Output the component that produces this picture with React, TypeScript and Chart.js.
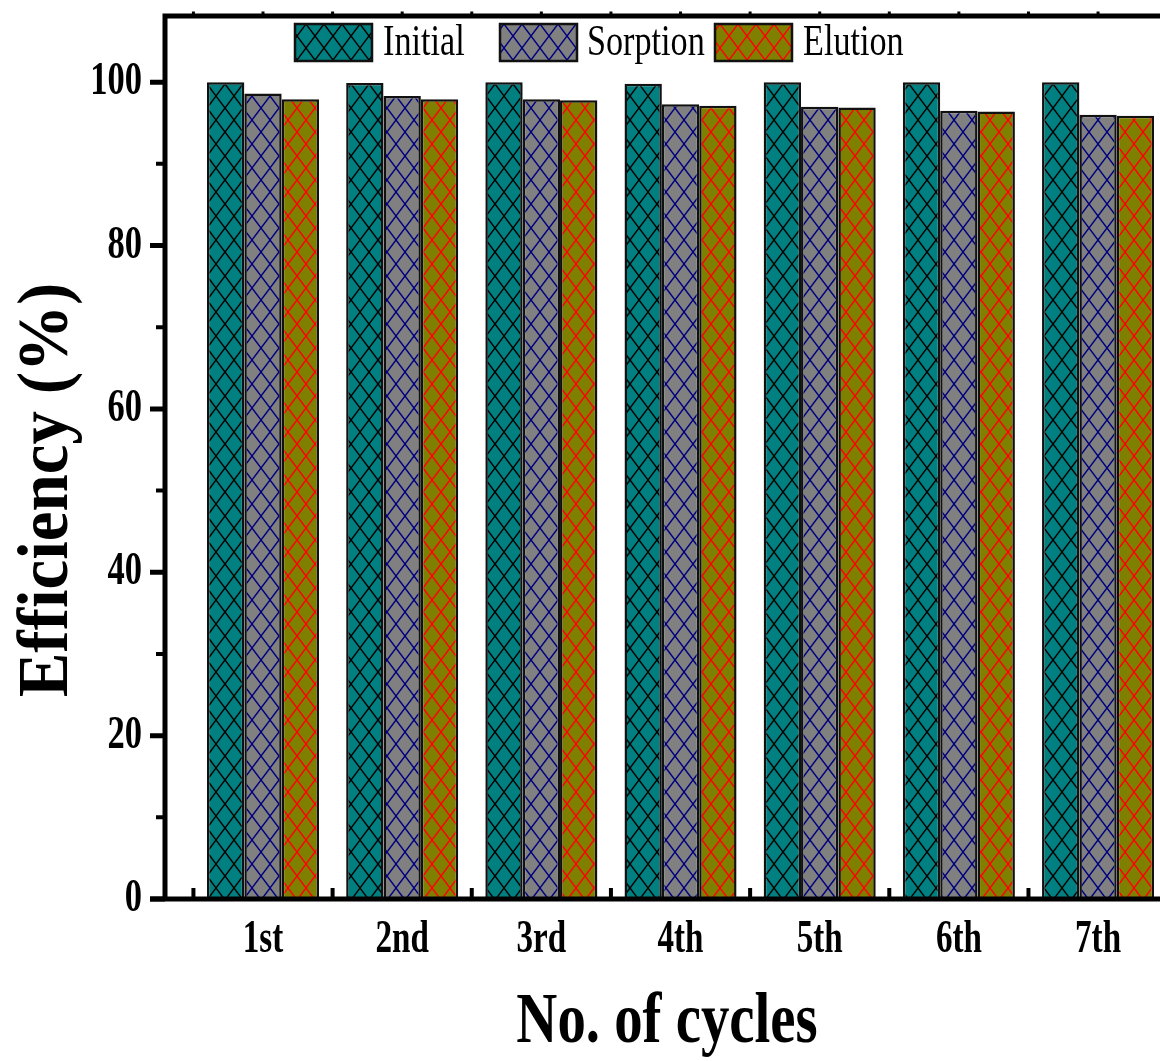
import React, { useEffect, useRef } from "react";
import { Chart, registerables } from "chart.js";

Chart.register(...registerables);

// Cycle categories and efficiency values (%)
const cycleLabels = ["1st", "2nd", "3rd", "4th", "5th", "6th", "7th"];
const cyclePositions = [1, 2, 3, 4, 5, 6, 7];
const initialValues = [100, 99.9, 100, 99.8, 100, 100, 100];
const sorptionValues = [98.6, 98.3, 97.9, 97.3, 97.0, 96.5, 96.0];
const elutionValues = [97.9, 97.9, 97.8, 97.1, 96.9, 96.4, 95.9];

const seriesNames = ["Initial", "Sorption", "Elution"];
const yMajorTicks = [0, 20, 40, 60, 80, 100];
const yMinorTicks = [10, 30, 50, 70, 90];
const xBoundaryTicks = [0.5, 1.5, 2.5, 3.5, 4.5, 5.5, 6.5, 7.5];

const X_MIN = 0.2958;
const X_MAX = 7.481;
const Y_MAX = 108.1;

const CANVAS_W = 1175;
const CANVAS_H = 1061;

const FONT = '"Liberation Serif", "Times New Roman", serif';

// Diagonal cross-hatch fill
function makeHatch(ctx: CanvasRenderingContext2D, fill: string, stroke: string) {
  const W = 18;
  const H = 24;
  const tile = document.createElement("canvas");
  tile.width = W;
  tile.height = H;
  const t = tile.getContext("2d")!;
  t.fillStyle = fill;
  t.fillRect(0, 0, W, H);
  t.strokeStyle = stroke;
  t.lineWidth = 1.4;
  t.beginPath();
  for (const k of [-1, 0, 1]) {
    const ox = k * W;
    // "\" family
    t.moveTo(ox - W * 0.1, -H * 0.1);
    t.lineTo(ox + W * 1.1, H * 1.1);
    // "/" family
    t.moveTo(ox + W * 1.1, -H * 0.1);
    t.lineTo(ox - W * 0.1, H * 1.1);
  }
  t.stroke();
  return ctx.createPattern(tile, "repeat")!;
}

function drawCondensed(
  ctx: CanvasRenderingContext2D,
  text: string,
  x: number,
  y: number,
  font: string,
  align: CanvasTextAlign,
  sx: number,
  rotate = 0
) {
  ctx.save();
  ctx.translate(x, y);
  if (rotate) ctx.rotate(rotate);
  ctx.scale(sx, 1);
  ctx.font = font;
  ctx.textAlign = align;
  ctx.textBaseline = "alphabetic";
  ctx.fillStyle = "#000";
  ctx.fillText(text, 0, 0);
  ctx.restore();
}

const framePlugin = {
  id: "frame",
  afterDatasetsDraw(chart: any) {
    const ctx: CanvasRenderingContext2D = chart.ctx;
    const xs = chart.scales.x;
    const ys = chart.scales.y;
    const { left, right, top, bottom } = chart.chartArea;

    ctx.save();
    ctx.strokeStyle = "#000";
    ctx.lineCap = "butt";

    // frame lines
    ctx.lineWidth = 5;
    ctx.beginPath();
    ctx.moveTo(left, top - 2.5);
    ctx.lineTo(left, bottom + 2.5);
    ctx.moveTo(left - 15, bottom);
    ctx.lineTo(right + 20, bottom);
    ctx.moveTo(left - 2.5, top);
    ctx.lineTo(right + 20, top);
    ctx.stroke();

    // y ticks
    ctx.lineWidth = 5;
    ctx.beginPath();
    for (const v of yMajorTicks) {
      const y = ys.getPixelForValue(v);
      ctx.moveTo(left - 15, y);
      ctx.lineTo(left, y);
    }
    ctx.stroke();
    ctx.lineWidth = 4;
    ctx.beginPath();
    for (const v of yMinorTicks) {
      const y = ys.getPixelForValue(v);
      ctx.moveTo(left - 9, y);
      ctx.lineTo(left, y);
    }
    ctx.stroke();

    // x ticks between groups (inside), and small marks on top edge
    ctx.lineWidth = 4;
    ctx.beginPath();
    for (const v of xBoundaryTicks) {
      const x = xs.getPixelForValue(v);
      ctx.moveTo(x, bottom);
      ctx.lineTo(x, bottom - 11);
    }
    ctx.stroke();
    ctx.lineWidth = 3;
    ctx.beginPath();
    for (const v of [...xBoundaryTicks, ...cyclePositions]) {
      const x = xs.getPixelForValue(v);
      ctx.moveTo(x, top);
      ctx.lineTo(x, top - 4.5);
    }
    ctx.stroke();
    ctx.restore();

    // tick labels
    for (const v of yMajorTicks) {
      const y = ys.getPixelForValue(v);
      drawCondensed(ctx, String(v), left - 23, y + 12, `bold 46px ${FONT}`, "right", 0.75);
    }
    cycleLabels.forEach((lab, i) => {
      const x = xs.getPixelForValue(cyclePositions[i]);
      drawCondensed(ctx, lab, x, bottom + 53, `bold 46px ${FONT}`, "center", 0.72);
    });

    // axis titles
    drawCondensed(ctx, "No. of cycles", 667, 1042, `bold 71px ${FONT}`, "center", 0.8);
    drawCondensed(ctx, "Efficiency (%)", 67, 490, `bold 72px ${FONT}`, "center", 0.93, -Math.PI / 2);

    // legend
    const boxes = [
      { x: 295, text: 383 },
      { x: 500, text: 587 },
      { x: 715, text: 803 },
    ];
    chart.data.datasets.forEach((ds: any, i: number) => {
      const b = boxes[i];
      ctx.save();
      ctx.fillStyle = ds.backgroundColor;
      ctx.fillRect(b.x, 24, 77, 37);
      ctx.strokeStyle = "#111";
      ctx.lineWidth = 2.5;
      ctx.strokeRect(b.x, 24, 77, 37);
      ctx.restore();
      drawCondensed(ctx, ds.label, b.text, 55, `45px ${FONT}`, "left", 0.76);
    });
  },
};

export default function App() {
  const ref = useRef<HTMLCanvasElement | null>(null);

  useEffect(() => {
    const canvas = ref.current!;
    const ctx = canvas.getContext("2d")!;
    const hatches = [
      makeHatch(ctx, "#008080", "#000000"),
      makeHatch(ctx, "#808080", "#000080"),
      makeHatch(ctx, "#808000", "#ff0000"),
    ];
    const series = [initialValues, sorptionValues, elutionValues];

    const chart = new Chart(canvas, {
      type: "bar",
      data: {
        datasets: series.map((vals, i) => ({
          label: seriesNames[i],
          data: vals.map((v, j) => ({ x: cyclePositions[j], y: v })),
          backgroundColor: hatches[i] as any,
          borderColor: "#111111",
          borderWidth: 2.5,
          borderSkipped: "bottom" as const,
          categoryPercentage: 0.805,
          barPercentage: 1,
        })),
      },
      options: {
        responsive: false,
        animation: false,
        events: [],
        layout: { padding: { left: 165, right: 10, top: 16, bottom: CANVAS_H - 899 } },
        scales: {
          x: {
            type: "linear",
            min: X_MIN,
            max: X_MAX,
            offset: false,
            display: false,
            afterBuildTicks: (scale: any) => {
              scale.ticks = cyclePositions.map((v) => ({ value: v }));
            },
          },
          y: {
            type: "linear",
            min: 0,
            max: Y_MAX,
            display: false,
          },
        },
        plugins: {
          legend: { display: false },
          tooltip: { enabled: false },
        },
      },
      plugins: [framePlugin],
    });

    return () => chart.destroy();
  }, []);

  return (
    <div
      style={{
        position: "absolute",
        left: 0,
        top: 0,
        width: 1160,
        height: CANVAS_H,
        overflow: "hidden",
        background: "#fff",
      }}
    >
      <canvas ref={ref} width={CANVAS_W} height={CANVAS_H} style={{ display: "block" }} />
    </div>
  );
}
